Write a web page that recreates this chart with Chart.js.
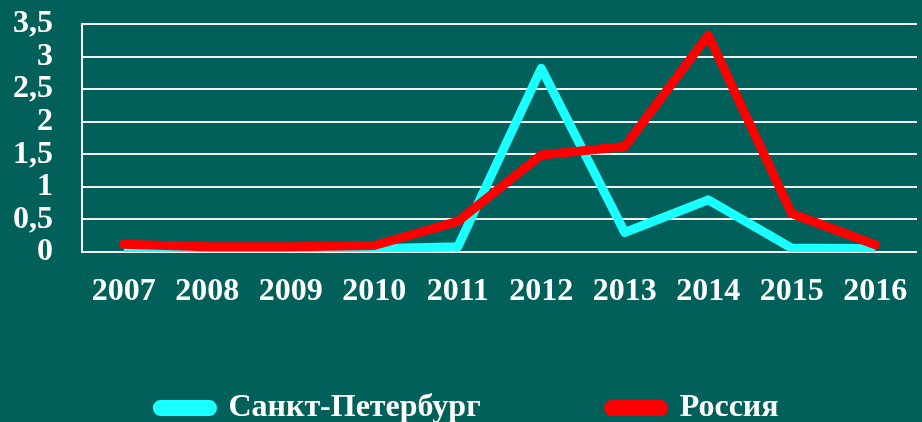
<!DOCTYPE html>
<html>
<head>
<meta charset="utf-8">
<script src="https://cdn.jsdelivr.net/npm/chart.js@4"></script>
<style>
  html, body { margin: 0; padding: 0; background: #02605a; }
  #wrap { width: 922px; height: 422px; }
</style>
</head>
<body>
<div id="wrap"><canvas id="lineChart"></canvas></div>
<script>
const years = ['2007','2008','2009','2010','2011','2012','2013','2014','2015','2016'];
const spb = [0.04, 0.03, 0.04, 0.05, 0.08, 2.82, 0.3, 0.8, 0.06, 0.05];
const russia = [0.12, 0.08, 0.08, 0.1, 0.47, 1.49, 1.62, 3.33, 0.59, 0.11];
const yTickLabels = ['0','0,5','1','1,5','2','2,5','3','3,5'];

const serif = "'Liberation Serif', 'Times New Roman', serif";
const ctx = document.getElementById('lineChart');

// x labels hang below a thin axis box, so don't clip them to it
const labelRoom = {
  id: 'labelRoom',
  afterLayout(chart) {
    chart.scales.x.bottom = chart.height;
  }
};

new Chart(ctx, {
  type: 'line',
  data: {
    labels: years,
    datasets: [
      {
        label: 'Санкт-Петербург',
        data: spb,
        borderColor: '#1affff',
        backgroundColor: '#1affff',
        borderWidth: 9,
        borderCapStyle: 'butt',
        borderJoinStyle: 'round',
        pointRadius: 0,
        tension: 0,
        order: 2
      },
      {
        label: 'Россия',
        data: russia,
        borderColor: '#ff0000',
        backgroundColor: '#ff0000',
        borderWidth: 9,
        borderCapStyle: 'round',
        borderJoinStyle: 'round',
        pointRadius: 0,
        tension: 0,
        order: 1
      }
    ]
  },
  options: {
    responsive: true,
    maintainAspectRatio: false,
    animation: false,
    layout: { padding: { top: 0, right: 0, left: 14, bottom: 0 } },
    plugins: {
      tooltip: { enabled: false },
      legend: {
        position: 'bottom',
        maxHeight: 158,
        labels: {
          color: '#ffffff',
          font: { family: serif, size: 32, weight: 'bold' },
          boxWidth: 55,
          boxHeight: 7,
          useBorderRadius: true,
          borderRadius: 3,
          padding: 128,
          sort: (a, b) => a.datasetIndex - b.datasetIndex
        }
      }
    },
    scales: {
      x: {
        offset: true,
        grid: { display: false, drawTicks: false },
        border: { display: false },
        ticks: {
          color: '#ffffff',
          padding: 21,
          maxRotation: 0,
          font: { family: serif, size: 32, weight: 'bold' }
        },
        afterFit: (scale) => {
          scale.height = 12;
          scale.paddingLeft = 0;
          scale.paddingRight = 5;
        }
      },
      y: {
        min: 0,
        max: 3.5,
        grid: { color: '#f2f2f2', lineWidth: 2, drawTicks: false },
        border: { display: true, color: '#ffffff', width: 2 },
        ticks: {
          stepSize: 0.5,
          autoSkip: false,
          color: '#ffffff',
          padding: 29,
          font: { family: serif, size: 32, weight: 'bold' },
          callback: (v, i) => yTickLabels[i]
        },
        afterFit: (scale) => {
          scale.width = 68;
          scale.paddingTop = 24;
          scale.paddingBottom = 0;
        }
      }
    }
  },
  plugins: [labelRoom]
});
</script>
</body>
</html>
